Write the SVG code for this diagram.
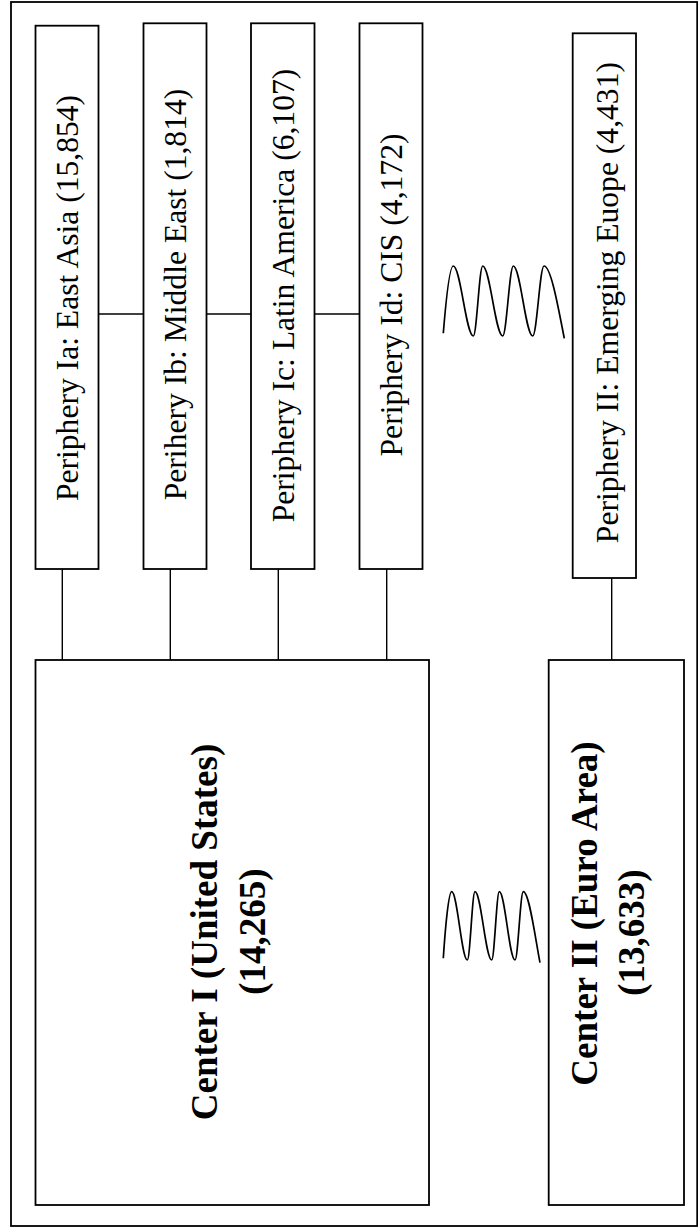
<svg xmlns="http://www.w3.org/2000/svg" width="698" height="1227" viewBox="0 0 698 1227">
<style>
.box{fill:#fff;stroke:#000;stroke-width:1.8}
.frame{fill:none;stroke:#000;stroke-width:1.8}
.ln{fill:none;stroke:#000;stroke-width:1.4}
.wave{fill:none;stroke:#000;stroke-width:1.7;stroke-linejoin:round;stroke-linecap:butt}
.pt{font-family:"Liberation Serif","Times New Roman",serif;font-size:31.6px;fill:#000;text-anchor:middle}
.ct{font-family:"Liberation Serif","Times New Roman",serif;font-size:37px;font-weight:bold;fill:#000;text-anchor:middle}
</style>
<rect width="698" height="1227" fill="#fff"/>
<rect class="frame" x="11" y="2" width="686.2" height="1224"/>
<g id="connectors">
<line class="ln" x1="98.5" y1="314" x2="143.5" y2="314"/>
<line class="ln" x1="206.5" y1="314" x2="251" y2="314"/>
<line class="ln" x1="314.5" y1="314" x2="359.5" y2="314"/>
<line class="ln" x1="62.3" y1="569" x2="62.3" y2="660"/>
<line class="ln" x1="170.3" y1="569" x2="170.3" y2="660"/>
<line class="ln" x1="278.3" y1="569" x2="278.3" y2="660"/>
<line class="ln" x1="386.7" y1="569" x2="386.7" y2="660"/>
<line class="ln" x1="611.7" y1="578" x2="611.7" y2="660"/>
<path class="wave" d="M443.3,333.3 C446,300 449.7,266 453.3,266 C460.5,266 466.1,336 473.3,336 C476.7,336 479.3,266 482.7,266 C489.9,266 495.5,336 502.7,336 C506.5,336 509.5,266 513.3,266 C520.3,266 525.7,336 532.7,336 C536.8,336 539.9,266 544,266 C551.3,266 559,312 564.3,338.3"/>
<path class="wave" d="M443.3,958.3 C445.5,925 448.7,891.7 451.7,891.7 C457.3,891.7 461.7,960 467.3,960 C470.1,960 472.2,891.7 475,891.7 C481,891.7 485.7,960 491.7,960 C494.4,960 496.6,891.7 499.3,891.7 C505,891.7 509.3,960 515,960 C518,960 520.3,891.7 523.3,891.7 C529.3,891.7 535.5,940 540,962.7"/>
</g>
<g id="periphery-ia">
<rect class="box" x="35.5" y="25.7" width="63" height="543.3"/>
<text class="pt" transform="translate(78,298) rotate(-90)">Periphery Ia: East Asia (15,854)</text>
</g>
<g id="periphery-ib">
<rect class="box" x="143.5" y="23.3" width="63" height="545.7"/>
<text class="pt" transform="translate(186,294.5) rotate(-90)">Perihery Ib: Middle East (1,814)</text>
</g>
<g id="periphery-ic">
<rect class="box" x="251" y="23.3" width="63.5" height="545.7"/>
<text class="pt" transform="translate(294,295.5) rotate(-90)">Periphery Ic: Latin America (6,107)</text>
</g>
<g id="periphery-id">
<rect class="box" x="359.5" y="23.3" width="63" height="545.7"/>
<text class="pt" transform="translate(402,295) rotate(-90)">Periphery Id: CIS (4,172)</text>
</g>
<g id="periphery-ii">
<rect class="box" x="572.7" y="33.3" width="63.3" height="544.7"/>
<text class="pt" transform="translate(618,302.6) rotate(-90)">Periphery II: Emerging Euope (4,431)</text>
</g>
<g id="center-i">
<rect class="box" x="35.5" y="660" width="393.5" height="545"/>
<text class="ct" transform="translate(216.5,932) rotate(-90)">Center I (United States)</text>
<text class="ct" transform="translate(264.5,931.5) rotate(-90)">(14,265)</text>
</g>
<g id="center-ii">
<rect class="box" x="548.7" y="660" width="135.3" height="545"/>
<text class="ct" transform="translate(596.5,913.5) rotate(-90)">Center II (Euro Area)</text>
<text class="ct" transform="translate(644,932.5) rotate(-90)">(13,633)</text>
</g>
</svg>
